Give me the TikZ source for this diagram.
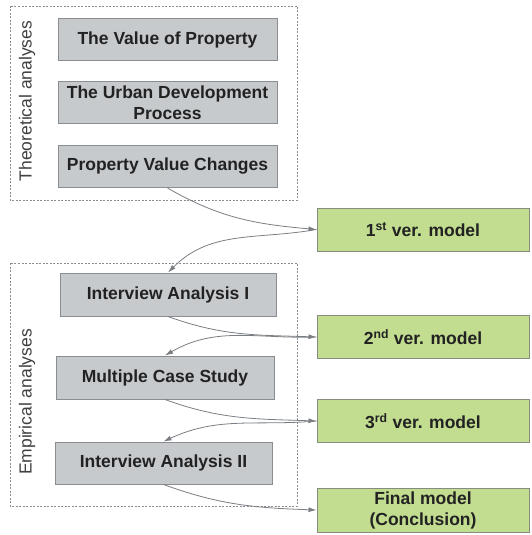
\documentclass[tikz,border=0pt]{standalone}
\usepackage{fontspec}
\setmainfont{Liberation Sans}
\usetikzlibrary{arrows.meta}
\definecolor{grisboite}{HTML}{C6CACD}
\definecolor{grisbord}{HTML}{8A8E92}
\definecolor{vertboite}{HTML}{C2DC90}
\definecolor{vertbord}{HTML}{868C80}
\definecolor{grisfleche}{HTML}{7A7E82}
\definecolor{texte}{HTML}{222222}
\begin{document}
\begin{tikzpicture}[x=1pt,y=-1pt]
% Styles
\tikzstyle{fleche}=[-{Latex[length=8pt,width=5pt]},grisfleche,line width=0.8pt]
\tikzstyle{etape}=[fill=grisboite,draw=grisbord,line width=1pt,minimum height=42pt,inner sep=0pt,align=center,text=texte,font=\fontsize{17.5}{21}\selectfont\bfseries]
\tikzstyle{modele}=[fill=vertboite,draw=vertbord,line width=1pt,minimum width=212pt,minimum height=43pt,inner sep=0pt,align=center,text=texte,font=\fontsize{17.5}{21}\selectfont\bfseries]
\tikzstyle{cadre}=[draw=grisbord,dash pattern=on 2pt off 1.5pt,line width=0.7pt]
\tikzstyle{titre}=[rotate=90,text=black!75,font=\fontsize{17.5}{21}\selectfont]
% Dimensions
\def\ColonneEtapes{167.5}
\def\ColonneModeles{423}
\useasboundingbox (0,0) rectangle (531,535);
% Cadres
\draw[cadre] (10,6) rectangle (297,200);
\draw[cadre] (10,263) rectangle (297,506);
\node[titre] (theo) at (27,101) {Theoretical analyses};
\node[titre] (emp) at (27,402) {Empirical analyses};
% Etapes
\node[etape,minimum width=219pt] (val) at (\ColonneEtapes,39.5) {The Value of Property};
\node[etape,minimum width=219pt] (urb) at (\ColonneEtapes,102.5) {The Urban Development\\Process};
\node[etape,minimum width=219pt] (pvc) at (\ColonneEtapes,166.5) {Property Value Changes};
\node[etape,minimum width=216pt,minimum height=43pt] (ia1) at (168,294.5) {Interview Analysis I};
\node[etape,minimum width=218pt,minimum height=43pt] (mcs) at (165,377.5) {Multiple Case Study};
\node[etape,minimum width=217pt,minimum height=42pt] (ia2) at (163.5,463) {Interview Analysis II};
% Modeles
\node[modele] (m1) at (\ColonneModeles,229.5) {1\textsuperscript{st} ver. model};
\node[modele] (m2) at (\ColonneModeles,337) {2\textsuperscript{nd} ver. model};
\node[modele] (m3) at (\ColonneModeles,421) {3\textsuperscript{rd} ver. model};
\node[modele,minimum height=44pt] (m4) at (\ColonneModeles,510) {Final model\\(Conclusion)};
% Fleches
\draw[fleche] (pvc.south) to[out=-30,in=175] (m1.west);
\draw[fleche] (m1.west) to[out=190,in=45] (ia1.north);
\draw[fleche] (ia1.south) to[out=-20,in=178] (m2.west);
\draw[fleche] (m2.west) to[out=182,in=30] (mcs.north);
\draw[fleche] (mcs.south) to[out=-20,in=178] (m3.west);
\draw[fleche] (m3.west) to[out=185,in=25] (ia2.north);
\draw[fleche] (ia2.south) to[out=-20,in=178] (m4.west);
\end{tikzpicture}
\end{document}
